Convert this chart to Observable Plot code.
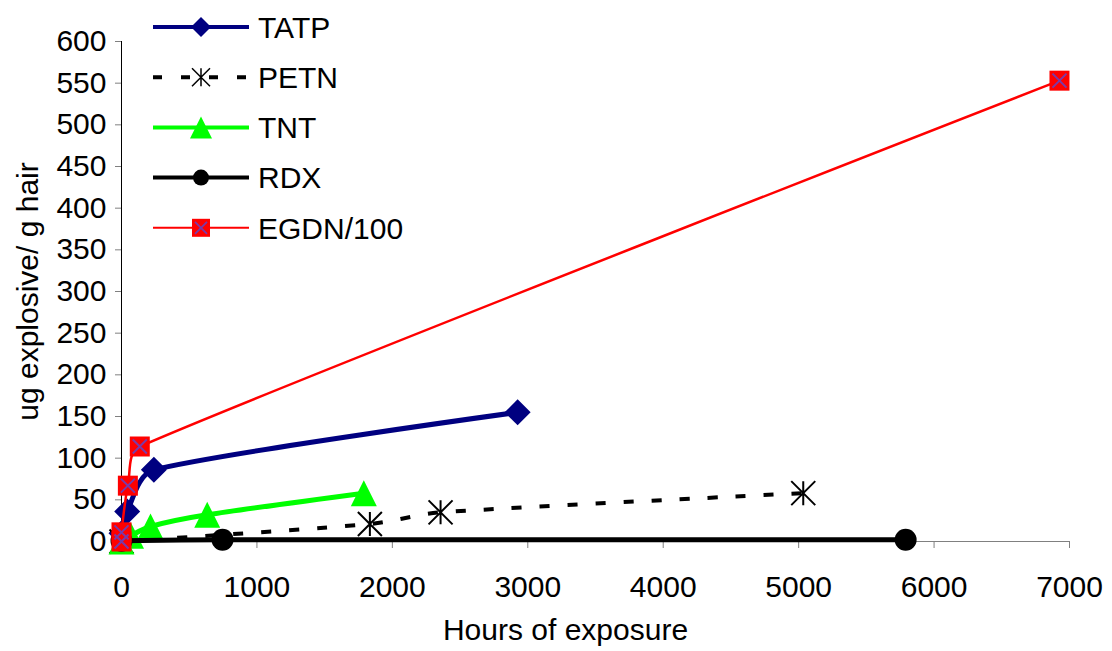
<!DOCTYPE html>
<html><head><meta charset="utf-8">
<script src="https://cdn.jsdelivr.net/npm/d3@7"></script>
<script src="https://cdn.jsdelivr.net/npm/@observablehq/plot@0.6"></script>
<style>
html,body{margin:0;padding:0;background:#fff;}
#wrap{position:relative;width:1112px;height:651px;font-family:"Liberation Sans",Arial,sans-serif;}
#legend{position:absolute;left:0;top:0;pointer-events:none;}
</style></head><body><div id="wrap"></div>
<script>
// ---- data ----
const seriesNames = ["TATP", "PETN", "TNT", "RDX", "EGDN/100"];
const tatpHours  = [0, 42, 239, 2925];
const tatpValues = [10, 36, 86, 155];
const petnHours  = [0, 1834, 2356, 5034];
const petnValues = [0, 21, 35, 58];
const tntHours   = [0, 70, 214, 633, 1789];
const tntValues  = [0, 7, 18, 32, 58];
const rdxHours   = [0, 746, 5790];
const rdxValues  = [1, 2, 2];
const egdnHours  = [0, 0, 47, 135, 6926];
const egdnValues = [0, 11, 67, 114, 553];
const xTicks = [0, 1000, 2000, 3000, 4000, 5000, 6000, 7000];
const yTicks = [0, 50, 100, 150, 200, 250, 300, 350, 400, 450, 500, 550, 600];
const xTitle = "Hours of exposure";
const yTitle = "ug explosive/ g hair";

// ---- spreadsheet-style smoothed line (bounded Bezier handles) ----
function SmoothCurve(context) { this._context = context; }
SmoothCurve.prototype = {
  areaStart() {}, areaEnd() {},
  lineStart() { this._pts = []; },
  point(x, y) { this._pts.push([+x, +y]); },
  lineEnd() {
    const p = this._pts, n = p.length, c = this._context;
    if (!n) return;
    c.moveTo(p[0][0], p[0][1]);
    if (n === 2) { c.lineTo(p[1][0], p[1][1]); return; }
    const dist = (a, b) => Math.hypot(b[0] - a[0], b[1] - a[1]);
    const handle = (i, toward) => {
      if (i === 0 || i === n - 1) return p[i];
      const a = p[i - 1], b = p[i + 1];
      const span = dist(a, b) || 1;
      const ux = (b[0] - a[0]) / span, uy = (b[1] - a[1]) / span;
      const seg = dist(p[i], p[toward]);
      const L = Math.min(span / 6, seg / 3);
      const s = toward > i ? 1 : -1;
      return [p[i][0] + s * ux * L, p[i][1] + s * uy * L];
    };
    for (let i = 0; i < n - 1; i++) {
      const c1 = handle(i, i + 1), c2 = handle(i + 1, i);
      c.bezierCurveTo(c1[0], c1[1], c2[0], c2[1], p[i + 1][0], p[i + 1][1]);
    }
  }
};
const smooth = context => new SmoothCurve(context);

// ---- custom marker shapes (size = area = PI*r*r) ----
const R = s => Math.sqrt(s / Math.PI);
const symDiamond = {draw(c, s){const r=R(s); c.moveTo(0,-r); c.lineTo(r,0); c.lineTo(0,r); c.lineTo(-r,0); c.closePath();}};
const symTriangle = {draw(c, s){const r=R(s); c.moveTo(0,-r); c.lineTo(r,r); c.lineTo(-r,r); c.closePath();}};
const symSquare = {draw(c, s){const r=R(s); c.rect(-r,-r,2*r,2*r);}};
const symCircle = {draw(c, s){const r=R(s); c.moveTo(r,0); c.arc(0,0,r,0,2*Math.PI);}};
const symStar = {draw(c, s){const r=R(s); c.moveTo(0,-r); c.lineTo(0,r); c.moveTo(-r,-r); c.lineTo(r,r); c.moveTo(r,-r); c.lineTo(-r,r);}};
const symX = {draw(c, s){const r=R(s); c.moveTo(-r,-r); c.lineTo(r,r); c.moveTo(r,-r); c.lineTo(-r,r);}};

const mk = (name, hs, vs) => hs.map((h, i) => ({series: name, hours: h, value: vs[i]}));
const tatp = mk("TATP", tatpHours, tatpValues);
const petn = mk("PETN", petnHours, petnValues);
const tnt  = mk("TNT", tntHours, tntValues);
const rdx  = mk("RDX", rdxHours, rdxValues);
const egdn = mk("EGDN/100", egdnHours, egdnValues);

const styles = {
  "TATP":     {color:"#000080", w:5,   dash:null,    marks:[{symbol:symDiamond, r:13, fill:"#000080"}], legendMarks:[{symbol:symDiamond, r:10, fill:"#000080"}]},
  "PETN":     {color:"#000000", w:4,   dash:"10,18", marks:[{symbol:symStar, r:12, stroke:"#000", sw:2}], legendMarks:[{symbol:symStar, r:9, stroke:"#000", sw:1.5}]},
  "TNT":      {color:"#00FF00", w:5,   dash:null,    marks:[{symbol:symTriangle, r:13, fill:"#00FF00"}], legendMarks:[{symbol:symTriangle, r:11, fill:"#00FF00"}]},
  "RDX":      {color:"#000000", w:5,   dash:null,    marks:[{symbol:symCircle, r:11, fill:"#000"}], legendMarks:[{symbol:symCircle, r:8, fill:"#000"}]},
  "EGDN/100": {color:"#FF0000", w:2.5, dash:null,    marks:[{symbol:symSquare, r:10, fill:"#FF0000"}, {symbol:symX, r:7, stroke:"#7a3aa8", sw:2}], legendMarks:[{symbol:symSquare, r:9, fill:"#FF0000"}, {symbol:symX, r:6, stroke:"#7a3aa8", sw:1.8}]}
};

const seriesData = {"TATP": tatp, "PETN": petn, "TNT": tnt, "RDX": rdx, "EGDN/100": egdn};
const seriesMarks = [];
for (const name of seriesNames) {
  const st = styles[name], data = seriesData[name];
  seriesMarks.push(Plot.line(data, {x:"hours", y:"value", stroke:st.color, strokeWidth:st.w,
    strokeDasharray: st.dash || undefined, strokeLinecap: st.dash ? "butt" : "round", curve: smooth}));
  for (const m of st.marks) {
    seriesMarks.push(Plot.dot(data, {x:"hours", y:"value", symbol: m.symbol, r: m.r,
      fill: m.fill || "none", stroke: m.stroke || "none", strokeWidth: m.sw || 0}));
  }
}

const chart = Plot.plot({
  width: 1112, height: 651,
  marginLeft: 121, marginRight: 43, marginTop: 41, marginBottom: 110,
  x: {domain: [0, 7000]},
  y: {domain: [0, 600]},
  style: {fontFamily: '"Liberation Sans", Arial, sans-serif', fontSize: "30px", color: "#000", background: "#fff"},
  marks: [
    Plot.axisY({ticks: yTicks, tickSize: 6, tickPadding: 9, stroke: "#808080", fill: "#000",
      tickFormat: d => String(d), label: yTitle, labelAnchor: "center", labelOffset: 105, labelArrow: "none"}),
    Plot.axisX({ticks: xTicks, tickSize: 7, tickPadding: 27, stroke: "#808080", fill: "#000",
      tickFormat: d => String(d), label: null}),
    Plot.text([xTitle], {text: d => d, frameAnchor: "bottom", lineAnchor: "bottom", dy: 98, dx: -30,
      fontSize: 30, fill: "#000"}),
    Plot.ruleY([0], {stroke: "#808080", strokeWidth: 1}),
    Plot.ruleX([0], {stroke: "#000", strokeWidth: 1}),
    ...seriesMarks
  ]
});
const wrap = document.getElementById("wrap");
wrap.appendChild(chart);

// ---- legend overlay ----
const lg = d3.select(wrap).append("svg").attr("id", "legend").attr("width", 1112).attr("height", 651)
  .style("font-family", '"Liberation Sans", Arial, sans-serif');
const rowY = i => 27 + i * 50.2;
seriesNames.forEach((name, i) => {
  const st = styles[name];
  const g = lg.append("g").attr("transform", `translate(0,${rowY(i)})`);
  g.append("line").attr("x1", 153).attr("x2", 249).attr("y1", 0).attr("y2", 0)
    .attr("stroke", st.color).attr("stroke-width", name === "EGDN/100" ? 2 : 4)
    .attr("stroke-dasharray", st.dash ? "9,19" : null);
  for (const m of st.legendMarks) {
    g.append("path").attr("transform", "translate(201,0)")
      .attr("d", d3.symbol(m.symbol, Math.PI * m.r * m.r)())
      .attr("fill", m.fill || "none").attr("stroke", m.stroke || "none").attr("stroke-width", m.sw || 0);
  }
  g.append("text").attr("x", 258).attr("y", 0).attr("dy", "0.36em").attr("font-size", 30).attr("fill", "#000").text(name);
});
</script></body></html>
